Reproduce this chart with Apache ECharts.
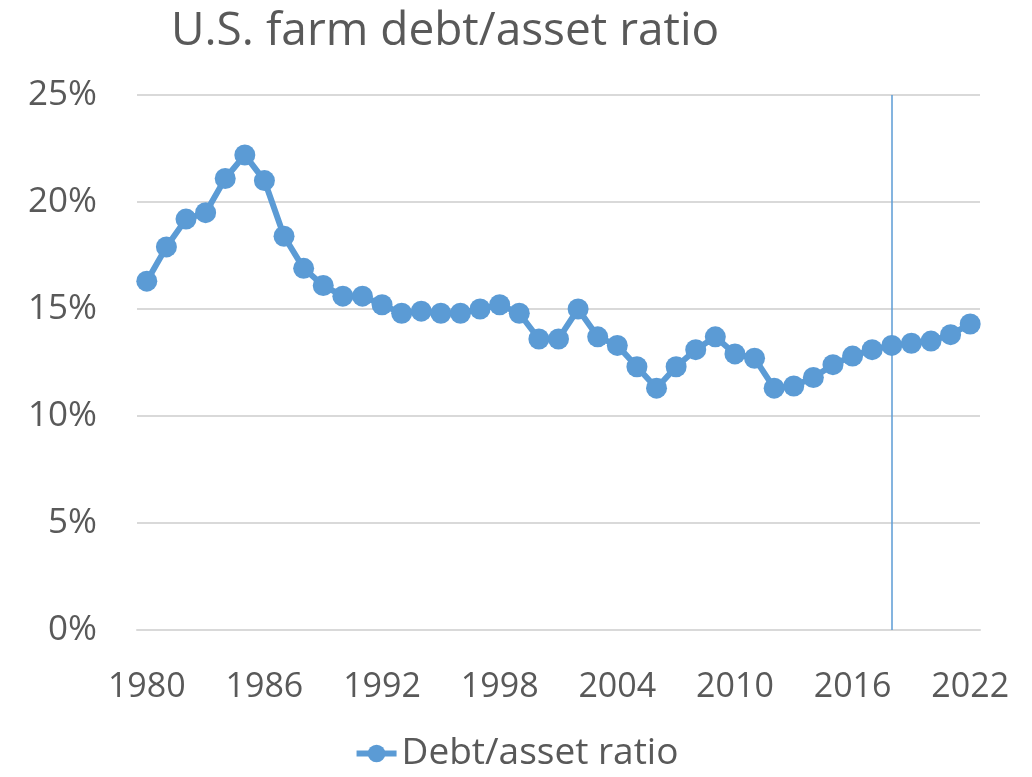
<!DOCTYPE html>
<html>
<head>
<meta charset="utf-8">
<script src="https://cdn.jsdelivr.net/npm/echarts@6/dist/echarts.min.js"></script>
<style>
  html, body { margin: 0; padding: 0; background: #fff; }
  #chart { width: 1032px; height: 777px; }
</style>
</head>
<body>
<div id="chart"></div>
<script>
// Data
const years = [];
for (let y = 1980; y <= 2022; y++) years.push(String(y));

const debtAssetRatio = [
  16.3, 17.9, 19.2, 19.5, 21.1, 22.2, 21.0, 18.4, 16.9, 16.1,
  15.6, 15.6, 15.2, 14.8, 14.9, 14.8, 14.8, 15.0, 15.2, 14.8,
  13.6, 13.6, 15.0, 13.7, 13.3, 12.3, 11.3, 12.3, 13.1, 13.7,
  12.9, 12.7, 11.3, 11.4, 11.8, 12.4, 12.8, 13.1, 13.3, 13.4,
  13.5, 13.8, 14.3
];

const markerYear = '2018';
const yTicks = [0, 5, 10, 15, 20, 25];

const font = "'Open Sans', sans-serif";
const textColor = '#595959';
const lineColor = '#5B9BD5';

const chart = echarts.init(document.getElementById('chart'));

const option = {
  animation: false,
  textStyle: { fontFamily: font },
  title: {
    text: 'U.S. farm debt/asset ratio',
    left: 166,
    top: 4,
    textStyle: { fontFamily: font, fontSize: 46, fontWeight: 'normal', color: textColor }
  },
  legend: {
    bottom: 0,
    left: 'center',
    itemWidth: 40,
    itemHeight: 22,
    itemGap: 4,
    lineStyle: { width: 6 },
    textStyle: { fontFamily: font, fontSize: 37, color: textColor }
  },
  grid: {
    left: 137,
    right: 52,
    top: 95,
    bottom: 147
  },
  xAxis: {
    type: 'category',
    data: years,
    boundaryGap: true,
    axisLine: { lineStyle: { color: '#d9d9d9', width: 2 } },
    axisTick: { show: false },
    axisLabel: {
      interval: 5,
      margin: 40,
      fontFamily: font,
      fontSize: 34,
      color: textColor
    }
  },
  yAxis: {
    type: 'value',
    min: yTicks[0],
    max: yTicks[yTicks.length - 1],
    interval: 5,
    axisLine: { show: false },
    axisTick: { show: false },
    axisLabel: {
      margin: 40,
      fontFamily: font,
      fontSize: 35,
      color: textColor,
      formatter: v => v + '%'
    },
    splitLine: { lineStyle: { color: '#d9d9d9', width: 2 } }
  },
  series: [
    {
      name: 'Debt/asset ratio',
      type: 'line',
      data: debtAssetRatio,
      color: lineColor,
      symbol: 'circle',
      symbolSize: 21,
      showAllSymbol: true,
      lineStyle: { width: 6, color: lineColor },
      itemStyle: { color: lineColor },
      markLine: {
        silent: true,
        symbol: 'none',
        label: { show: false },
        lineStyle: { color: lineColor, width: 1.5, type: 'solid' },
        data: [{ xAxis: markerYear }]
      }
    }
  ]
};

chart.setOption(option);
</script>
</body>
</html>
